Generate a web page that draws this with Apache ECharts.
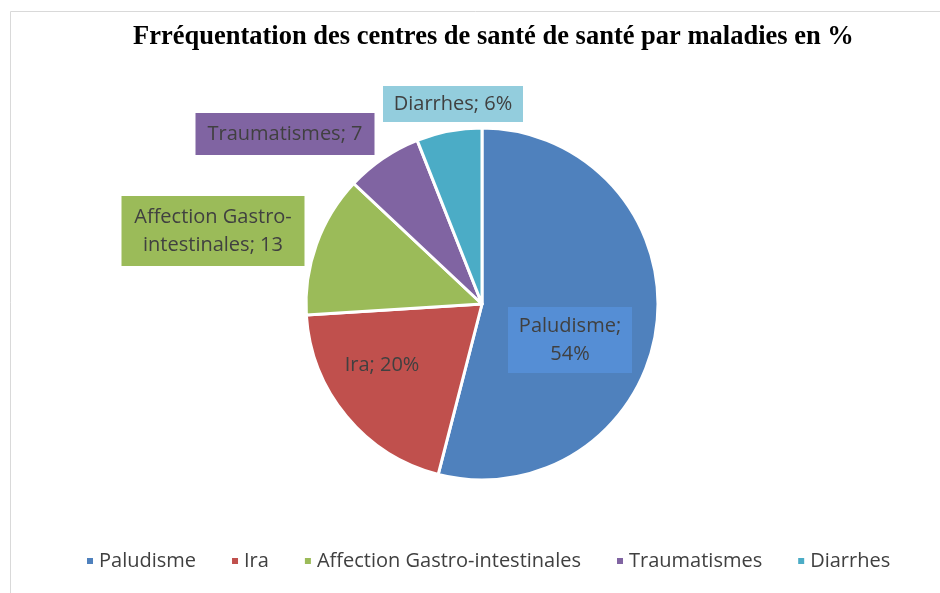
<!DOCTYPE html>
<html><head><meta charset="utf-8">
<script src="https://cdn.jsdelivr.net/npm/echarts@6/dist/echarts.min.js"></script>
<style>html,body{margin:0;padding:0;background:#fff}#c{width:940px;height:593px}</style>
</head><body><div id="c"></div>
<script>
const categories = ["Paludisme", "Ira", "Affection Gastro-intestinales", "Traumatismes", "Diarrhes"];
const values = [54, 20, 13, 7, 6];
const labelTexts = ["Paludisme;\n54%", "Ira; 20%", "Affection Gastro-\nintestinales; 13", "Traumatismes; 7", "Diarrhes; 6%"];
const colors = ["#4F81BD", "#C0504D", "#9BBB59", "#8064A2", "#4BACC6"];

const labelStyles = [
  {bg: "#558ED5", w: 124, h: 66, x: 570, y: 340},
  {bg: "transparent", w: 100, h: 30, x: 382, y: 365},
  {bg: "#9BBB59", w: 183, h: 70, x: 213, y: 231},
  {bg: "#8064A2", w: 179, h: 42, x: 285, y: 134},
  {bg: "#93CDDD", w: 140, h: 36, x: 453, y: 104}
];

const chart = echarts.init(document.getElementById('c'), null, {renderer: 'canvas'});
const data = categories.map((n, i) => ({
  name: n, value: values[i],
  itemStyle: {color: colors[i]},
  label: {
    formatter: labelTexts[i],
    backgroundColor: labelStyles[i].bg,
    width: labelStyles[i].w, height: labelStyles[i].h
  }
}));
chart.setOption({
  animation: false,
  graphic: [{type: 'rect', shape: {x: 10.5, y: 11.5, width: 1000, height: 1000}, style: {fill: 'none', stroke: '#d9d9d9', lineWidth: 1}, silent: true}],
  title: {
    text: 'Frréquentation des centres de santé de santé par maladies en %',
    left: 128, top: 19, itemGap: 0,
    textStyle: {fontFamily: 'Liberation Serif', fontWeight: 'bold', fontSize: 26.5, color: '#000'}
  },
  legend: {
    bottom: 17, left: 80, icon: 'rect', itemWidth: 8, itemHeight: 8, itemGap: 34,
    textStyle: {fontFamily: 'Open Sans', fontSize: 20, color: '#404040'},
    data: categories
  },
  series: [{
    type: 'pie', center: [482, 304], radius: 176, startAngle: 90, clockwise: true,
    itemStyle: {borderColor: '#fff', borderWidth: 3},
    label: {show: true, position: 'inside', fontFamily: 'Open Sans', fontSize: 20, color: '#404040',
      align: 'center', verticalAlign: 'middle', lineHeight: 28},
    labelLine: {show: false},
    labelLayout: function (p) {
      const s = labelStyles[p.dataIndex];
      return {x: s.x, y: s.y, align: 'center', verticalAlign: 'middle'};
    },
    emphasis: {disabled: true},
    data: data
  }]
});
</script></body></html>
